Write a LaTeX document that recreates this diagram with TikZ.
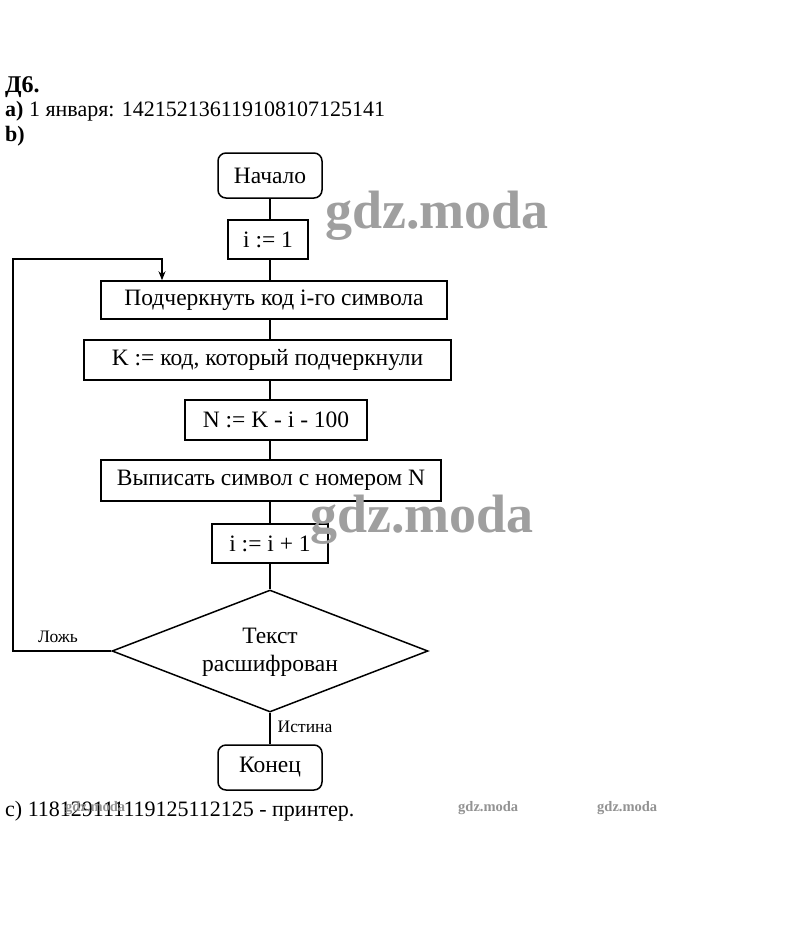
\documentclass[tikz,border=0pt]{standalone}
\usepackage{fontspec}
\setmainfont{Liberation Serif}
\usetikzlibrary{shapes.geometric,arrows.meta}
\begin{document}
\begin{tikzpicture}[x=1pt,y=-1pt,
  boxtxt/.style={font=\fontsize{23.5}{28}\selectfont},
  proc/.style={draw, line width=1.5pt, inner sep=0pt, boxtxt},
  term/.style={proc, rounded corners=8pt, minimum width=104pt, minimum height=45pt},
  dec/.style={draw, line width=1.5pt, diamond, inner sep=0pt, minimum width=316pt, minimum height=122pt},
  flow/.style={line width=1.5pt},
  lbl/.style={font=\fontsize{17.5}{20}\selectfont},
  head/.style={font=\fontsize{22}{26}\selectfont, anchor=base west, inner sep=0pt},
  bigwm/.style={font=\fontsize{54}{60}\selectfont\bfseries, text=gray!75, inner sep=0pt},
  smallwm/.style={font=\fontsize{14.5}{16}\selectfont\bfseries, text=gray!85, inner sep=0pt}
]
\useasboundingbox (0,0) rectangle (809,951);
\fill[white] (0,0) rectangle (809,951);

% headings
\node[head, font=\fontsize{24}{28}\selectfont\bfseries] (h1) at (5,92) {Д6.};
\node[head] (h2) at (5,116) {\textbf{а)} 1 января: 142152136119108107125141};
\node[head] (h3) at (5,141) {\textbf{b)}};

% flowchart nodes
\node[term] (start) at (270,175.5) {Начало};
\node[proc, minimum width=80pt, minimum height=39pt] (init) at (268,239.5) {i := 1};
\node[proc, minimum width=346pt, minimum height=38pt] (under) at (274,300) {Подчеркнуть код i-го символа};
\node[proc, minimum width=367pt, minimum height=40pt] (kk) at (267.5,360) {K := код, который подчеркнули};
\node[proc, minimum width=182pt, minimum height=40pt] (nn) at (276,420) {N := K - i - 100};
\node[proc, minimum width=340pt, minimum height=41pt] (out) at (271,480.5) {Выписать символ с номером N};
\node[proc, minimum width=116pt, minimum height=39pt] (inc) at (270,543.5) {i := i + 1};
\node[dec] (test) at (270,651) {};
\node[boxtxt, align=center, inner sep=0pt] (testtxt) at (270,652) {Текст\\расшифрован};
\node[term] (fin) at (270,767.5) {Конец};

% spine
\coordinate (sp) at (270,0);
\draw[flow] (start.south -| sp) -- (init.north -| sp);
\draw[flow] (init.south -| sp) -- (under.north -| sp);
\draw[flow] (under.south -| sp) -- (kk.north -| sp);
\draw[flow] (kk.south -| sp) -- (nn.north -| sp);
\draw[flow] (nn.south -| sp) -- (out.north -| sp);
\draw[flow] (out.south -| sp) -- (inc.north -| sp);
\draw[flow] (inc.south -| sp) -- (test.north);
\draw[flow] (test.south) -- (fin.north);

% loop back
\coordinate (lp) at (13,259);
\coordinate (lt) at (162,259);
\draw[flow, -{Stealth[length=9pt,width=7pt]}] (test.west) -- (test.west -| lp) -- (lp) -- (lt) -- (lt |- under.north);

\node[lbl] (lf) at (58,637) {Ложь};
\node[lbl] (lt2) at (305,727) {Истина};

% answer c
\node[head] (h4) at (5,816) {с) 118129111119125112125 - принтер.};

% watermarks
\node[bigwm, anchor=base west] (wm1) at (325,228) {gdz.moda};
\node[bigwm, anchor=base west] (wm2) at (310,532) {gdz.moda};
\node[smallwm, anchor=base west] (wm3) at (65,811) {gdz.moda};
\node[smallwm, anchor=base west] (wm4) at (458,811) {gdz.moda};
\node[smallwm, anchor=base west] (wm5) at (597,811) {gdz.moda};
\end{tikzpicture}
\end{document}
